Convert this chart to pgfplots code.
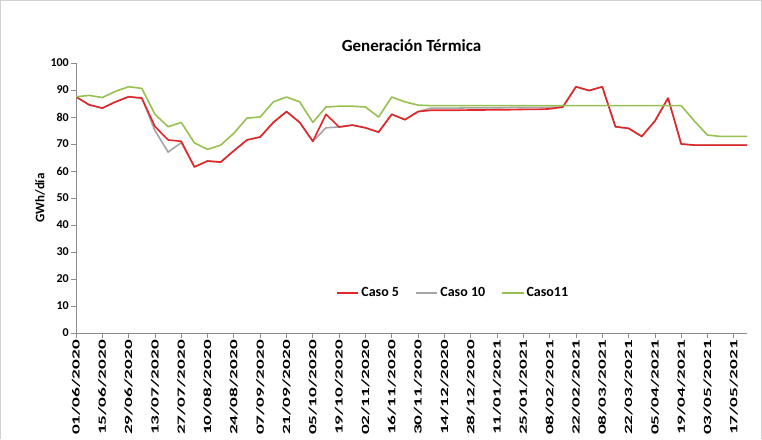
\documentclass[border=0pt]{standalone}
\usepackage{pgfplots}
\pgfplotsset{compat=1.18}
\usepackage{graphicx}
\usepackage{fontspec}
\setmainfont{Carlito}
\definecolor{c5}{RGB}{228,38,40}
\definecolor{c10}{RGB}{165,165,165}
\definecolor{c11}{RGB}{150,192,80}
\definecolor{axc}{RGB}{140,140,140}
\newcommand{\xl}[1]{\scalebox{1.75}[1]{#1}}
\begin{document}
\begin{tikzpicture}
\begin{axis}[
  at={(0,0)}, anchor=south west,
  width=671pt, height=270pt, scale only axis,
  xmin=0, xmax=51, ymin=0, ymax=100,
  axis lines*=left,
  axis line style={axc, line width=0.8pt},
  tick align=outside, major tick length=5pt,
  tick style={axc, line width=0.8pt},
  ytick={0,10,...,100},
  xtick={0,2,...,50},
  xticklabels={\xl{01/06/2020},\xl{15/06/2020},\xl{29/06/2020},\xl{13/07/2020},\xl{27/07/2020},\xl{10/08/2020},\xl{24/08/2020},\xl{07/09/2020},\xl{21/09/2020},\xl{05/10/2020},\xl{19/10/2020},\xl{02/11/2020},\xl{16/11/2020},\xl{30/11/2020},\xl{14/12/2020},\xl{28/12/2020},\xl{11/01/2021},\xl{25/01/2021},\xl{08/02/2021},\xl{22/02/2021},\xl{08/03/2021},\xl{22/03/2021},\xl{05/04/2021},\xl{19/04/2021},\xl{03/05/2021},\xl{17/05/2021}},
  xticklabel style={rotate=90, anchor=east, font=\fontsize{11}{11}\selectfont\bfseries, inner sep=2pt},
  yticklabel style={font=\fontsize{12}{12}\selectfont\bfseries, inner sep=2pt},
  /pgf/number format/assume math mode=true,
  ylabel={GWh/día},
  ylabel style={font=\fontsize{13}{13}\selectfont\bfseries},
  title={Generación Térmica},
  title style={font=\fontsize{17}{17}\selectfont\bfseries, yshift=2pt},
  legend columns=3,
  legend style={draw=none, fill=none, at={(0.562,0.148)}, anchor=center,
    font=\fontsize{14}{14}\selectfont\bfseries,
    /tikz/every even column/.append style={column sep=14pt}},
  legend image code/.code={\draw[line width=2pt] (0cm,0cm) -- (0.75cm,0cm);},
  every axis plot/.append style={line width=1.6pt, line join=round},
]
\addplot[c10, forget plot] coordinates {
(0,87.5)(1,84.5)(2,83.3)(3,85.6)(4,87.5)(5,87)(6,75)(7,67)(8,70.5)(9,61.5)
(10,63.7)(11,63.3)(12,67.5)(13,71.5)(14,72.6)(15,78)(16,82)(17,78)(18,71)(19,76)
(20,76.3)(21,77)(22,76)(23,74.4)(24,81)(25,79)(26,82)(27,83.3)(28,83.3)(29,83.3)
(30,83.4)(31,83.4)(32,83.4)(33,83.5)(34,83.5)(35,83.5)(36,83.6)(37,83.7)(38,91.2)(39,89.8)
(40,91.2)(41,76.4)(42,75.8)(43,72.8)(44,78.5)(45,87)(46,70)(47,69.6)(48,69.6)(49,69.6)
(50,69.6)(51,69.6)};
\addplot[c5] coordinates {
(0,87.5)(1,84.5)(2,83.3)(3,85.6)(4,87.5)(5,87)(6,76.5)(7,71.5)(8,71)(9,61.5)
(10,63.7)(11,63.3)(12,67.5)(13,71.5)(14,72.6)(15,78)(16,82)(17,78)(18,71)(19,81)
(20,76.3)(21,77)(22,76)(23,74.4)(24,81)(25,79)(26,82)(27,82.5)(28,82.5)(29,82.5)
(30,82.6)(31,82.6)(32,82.7)(33,82.7)(34,82.8)(35,82.8)(36,83)(37,83.7)(38,91.2)(39,89.8)
(40,91.2)(41,76.4)(42,75.8)(43,72.8)(44,78.5)(45,87)(46,70)(47,69.6)(48,69.6)(49,69.6)
(50,69.6)(51,69.6)};
\addlegendentry{Caso 5}
\addlegendimage{c10, line width=1.6pt}
\addlegendentry{Caso 10}
\addplot[c11] coordinates {
(0,87.5)(1,88)(2,87.2)(3,89.5)(4,91.2)(5,90.6)(6,81)(7,76.4)(8,78)(9,70.4)
(10,68)(11,69.6)(12,74)(13,79.6)(14,80)(15,85.6)(16,87.4)(17,85.6)(18,78)(19,83.7)
(20,84)(21,84)(22,83.7)(23,80)(24,87.4)(25,85.6)(26,84.4)(27,84.2)(28,84.2)(29,84.2)
(30,84.2)(31,84.2)(32,84.2)(33,84.2)(34,84.2)(35,84.2)(36,84.2)(37,84.2)(38,84.2)(39,84.2)
(40,84.2)(41,84.2)(42,84.2)(43,84.2)(44,84.2)(45,84.2)(46,84.2)(47,78.5)(48,73.3)(49,72.8)
(50,72.8)(51,72.8)};
\addlegendentry{Caso11}
\end{axis}
\pgfresetboundingbox
\path[use as bounding box] (-76pt,-106pt) rectangle (686pt,333pt);
\draw[gray!35, line width=1pt] (-75.5pt,-106pt) -- (-75.5pt,332.5pt) -- (685.5pt,332.5pt) -- (685.5pt,-106pt);
\end{tikzpicture}
\end{document}
